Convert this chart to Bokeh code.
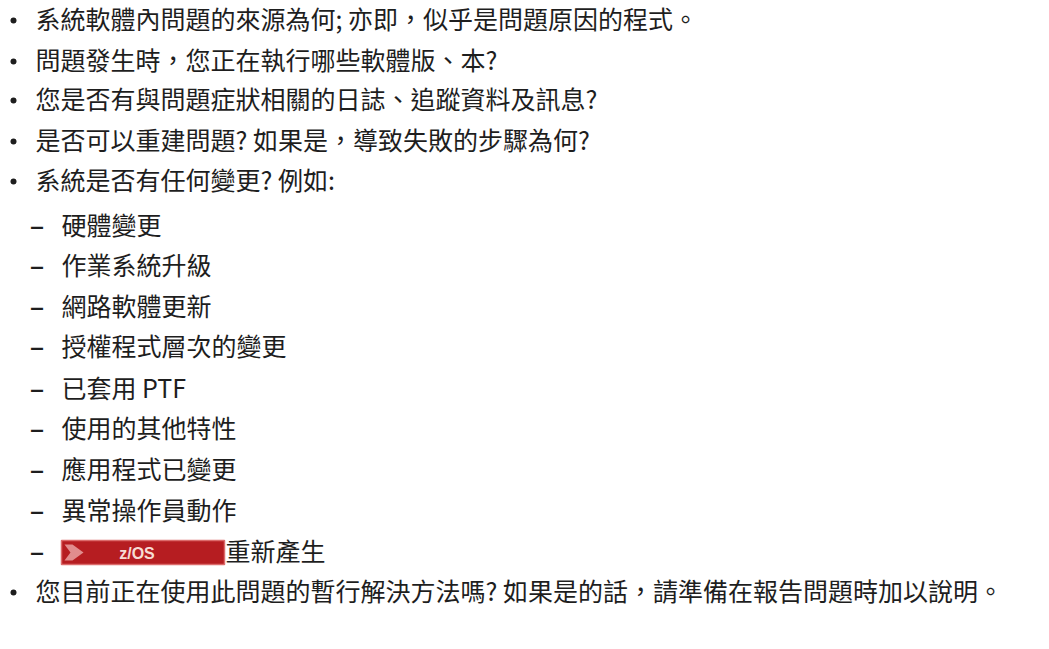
from bokeh.plotting import figure
from bokeh.models import Range1d, ColumnDataSource
from bokeh.core.properties import value
from bokeh.embed import file_html
from bokeh.resources import INLINE

# ---- content ----
items = [
    "系統軟體內問題的來源為何; 亦即，似乎是問題原因的程式。",
    "問題發生時，您正在執行哪些軟體版、本?",
    "您是否有與問題症狀相關的日誌、追蹤資料及訊息?",
    "是否可以重建問題? 如果是，導致失敗的步驟為何?",
    "系統是否有任何變更? 例如:",
    "硬體變更",
    "作業系統升級",
    "網路軟體更新",
    "授權程式層次的變更",
    "已套用 PTF",
    "使用的其他特性",
    "應用程式已變更",
    "異常操作員動作",
    "重新產生",
    "您目前正在使用此問題的暫行解決方法嗎? 如果是的話，請準備在報告問題時加以說明。",
]
levels = [0, 0, 0, 0, 0, 1, 1, 1, 1, 1, 1, 1, 1, 1, 0]
badge_label = "z/OS"
badge_item = 13

# ---- layout ----
W, H = 1033, 633
FS = "25px"
line_y = [17, 58, 97, 138, 178, 223, 263, 304, 344, 386, 426, 467, 508, 549, 589]
bullet_x, dash_x = 13, 29
text_x = {0: 35, 1: 61}
badge_x0, badge_x1 = 61, 224

p = figure(width=W, height=H, output_backend="svg", toolbar_location=None,
           x_range=Range1d(0, W), y_range=Range1d(H, 0),
           min_border=0, outline_line_color=None)
p.axis.visible = False
p.grid.visible = False
p.background_fill_color = "white"
p.border_fill_color = "white"

font = value("Noto Sans CJK TC")
col = "#1e1e1e"

xs, ys, ts = [], [], []
for i, (t, lv) in enumerate(zip(items, levels)):
    x = text_x[lv]
    if i == badge_item:
        x = badge_x1 + 1
    xs.append(x)
    ys.append(line_y[i])
    ts.append(t)
src = ColumnDataSource(dict(x=xs, y=ys, t=ts))
p.text(x="x", y="y", text="t", source=src, text_font=font, text_font_size=FS,
       text_color=col, text_baseline="middle", text_align="left")

# bullets and dashes
bx = [bullet_x for lv in levels if lv == 0]
by = [line_y[i] + 3 for i, lv in enumerate(levels) if lv == 0]
p.scatter(x=bx, y=by, marker="circle", size=6, fill_color=col, line_color=None)
dy = [line_y[i] + 2 for i, lv in enumerate(levels) if lv == 1]
p.text(x=[dash_x] * len(dy), y=dy, text=["–"] * len(dy), text_font=value("DejaVu Sans"),
       text_font_size="30px", text_color=col,
       text_baseline="middle", text_align="left")

# z/OS badge
by0 = line_y[badge_item] + 3
p.quad(left=[badge_x0], right=[badge_x1], top=[by0 - 12], bottom=[by0 + 12],
       fill_color="#b61d21", line_color="#dc6b6b", line_width=1.5)
p.patch(x=[badge_x0 + 3, badge_x0 + 11, badge_x0 + 22, badge_x0 + 11, badge_x0 + 3, badge_x0 + 9],
        y=[by0 - 8, by0 - 8, by0, by0 + 8, by0 + 8, by0],
        fill_color="#e9a0a0", line_color=None, fill_alpha=0.85)
p.text(x=[(badge_x0 + badge_x1) / 2 - 6], y=[by0 + 1], text=[badge_label],
       text_font=value("Liberation Sans"), text_font_style="bold",
       text_font_size="16px", text_color="#f6dcd4", text_baseline="middle", text_align="center")

open("out.html", "w").write(file_html(p, INLINE))
